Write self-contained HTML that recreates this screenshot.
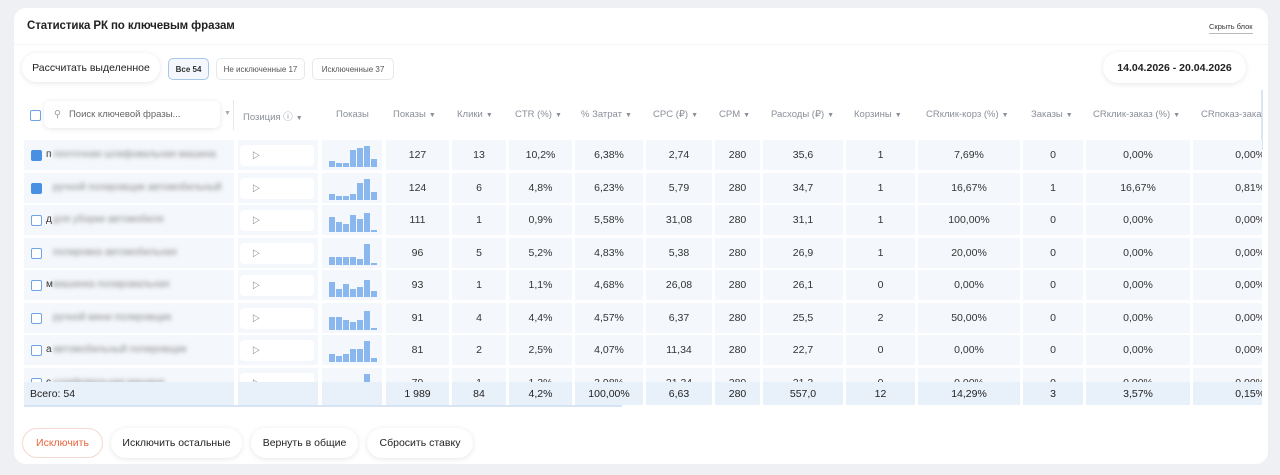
<!DOCTYPE html>
<html><head><meta charset="utf-8">
<style>
*{box-sizing:border-box;margin:0;padding:0}
body{width:1280px;height:475px;background:#eef0f3;font-family:"Liberation Sans","Noto Sans CJK SC",sans-serif;position:relative;overflow:hidden;color:#222}
.card{position:absolute;left:14px;top:8px;width:1254px;height:456px;background:#fff;border-radius:12px}
.abs{position:absolute}
.pill{position:absolute;background:#fff;border-radius:16px;box-shadow:0 1px 6px rgba(0,0,0,.1);font-size:10.5px;display:flex;align-items:center;justify-content:center;color:#222;white-space:nowrap}
.tab{position:absolute;height:22px;border:1px solid #e6e8ec;border-radius:5px;font-size:8px;color:#555;display:flex;align-items:center;justify-content:center;background:#fff;white-space:nowrap}
.hd{position:absolute;top:109px;font-size:9.5px;color:#8a8f99;white-space:nowrap}
.hd small{font-size:7px;margin-left:3px}
.cell{position:absolute;background:#f4f7fb;font-size:10.5px;color:#333;display:flex;align-items:center;justify-content:center}
.tot{position:absolute;background:#e8f0fa;font-size:10.5px;color:#222;display:flex;align-items:center;justify-content:center;height:23px;top:382px}
.cb{position:absolute;width:11px;height:11px;border:1px solid #6fa3e3;border-radius:2px;background:#fff}
.cb.on{background:#4a90e2;border-color:#4a90e2}
</style></head><body>
<div class="card"></div>
<div class="abs" style="left:27px;top:20px;font-size:11.5px;font-weight:bold;color:#222;letter-spacing:-0.1px">Статистика РК по ключевым фразам</div>
<div class="abs" style="left:1209px;top:22px;font-size:7.5px;color:#333;border-bottom:1px solid #bbb;padding-bottom:2px">Скрыть блок</div>
<div class="abs" style="left:14px;top:44px;width:1254px;height:1px;background:#f3f4f6"></div>
<div class="pill" style="left:22px;top:53px;width:138px;height:29px">Рассчитать выделенное</div>
<div class="tab" style="left:168px;top:58px;width:41px;border-color:#a9c6ea;background:#f4f8fe;color:#333;font-weight:bold">Все 54</div>
<div class="tab" style="left:216px;top:58px;width:89px">Не исключенные 17</div>
<div class="tab" style="left:312px;top:58px;width:82px">Исключенные 37</div>
<div class="pill" style="left:1103px;top:52px;width:143px;height:31px;font-weight:bold;font-size:10.5px">14.04.2026 - 20.04.2026</div>

<div class="cb" style="left:30px;top:110px"></div>
<div class="pill" style="left:44px;top:101px;width:176px;height:27px;border-radius:6px;justify-content:flex-start;padding-left:10px;font-size:9.5px;color:#666"><span style="color:#999;margin-right:8px">&#9906;</span>Поиск ключевой фразы...</div>
<div class="abs" style="left:224px;top:110px;color:#aaa;font-size:7px">&#9660;</div>
<div class="abs" style="left:233px;top:100px;width:1px;height:30px;background:#e5e7ea"></div>
<div class="abs" style="left:1261px;top:90px;width:2px;height:60px;background:#dbe6f3"></div>

<div id="tbl" class="abs" style="left:0;top:0;width:1262px;height:475px;overflow:hidden"></div>

<div class="abs" style="left:24px;top:405px;width:598px;height:2px;background:#d6e4f4"></div>

<div class="pill" style="left:22px;top:428px;width:81px;height:30px;color:#e8643c;border:1px solid #f6d8cf;box-shadow:none">Исключить</div>
<div class="pill" style="left:111px;top:428px;width:131px;height:30px">Исключить остальные</div>
<div class="pill" style="left:251px;top:428px;width:107px;height:30px">Вернуть в общие</div>
<div class="pill" style="left:367px;top:428px;width:106px;height:30px">Сбросить ставку</div>

<script>
const headers=["Позиция ⓘ","Показы","Показы","Клики","CTR (%)","% Затрат","CPC (₽)","CPM","Расходы (₽)","Корзины","CRклик-корз (%)","Заказы","CRклик-заказ (%)","CRпоказ-заказ"];
const hasCaret=[true,false,true,true,true,true,true,true,true,true,true,true,true,false];
const initials=["п","","д","","м","","а","с"];
const checked=[true,true,false,false,false,false,false,false];
const sparks=[[3,2,2,8,9,10,4],[3,2,2,3,8,10,4],[7,5,4,8,6,9,1],[4,4,4,4,3,10,1],[7,4,6,4,5,8,3],[6,6,5,4,5,9,1],[4,3,4,6,6,10,2],[4,3,4,5,6,10,2]];
const rowsData=[
["127","13","10,2%","6,38%","2,74","280","35,6","1","7,69%","0","0,00%","0,00%"],
["124","6","4,8%","6,23%","5,79","280","34,7","1","16,67%","1","16,67%","0,81%"],
["111","1","0,9%","5,58%","31,08","280","31,1","1","100,00%","0","0,00%","0,00%"],
["96","5","5,2%","4,83%","5,38","280","26,9","1","20,00%","0","0,00%","0,00%"],
["93","1","1,1%","4,68%","26,08","280","26,1","0","0,00%","0","0,00%","0,00%"],
["91","4","4,4%","4,57%","6,37","280","25,5","2","50,00%","0","0,00%","0,00%"],
["81","2","2,5%","4,07%","11,34","280","22,7","0","0,00%","0","0,00%","0,00%"],
["79","1","1,3%","3,98%","21,34","280","21,3","0","0,00%","0","0,00%","0,00%"]];
const totals=["1 989","84","4,2%","100,00%","6,63","280","557,0","12","14,29%","3","3,57%","0,15%"];
const blurTxt=["ленточная шлифовальная машина","ручной полировщик автомобильный","для уборки автомобиля","полировка автомобильная","машинка полировальная","ручной мини полировщик","автомобильный полировщик","шлифовальная машина"];
</script>
<script>
const T=document.getElementById('tbl');
const cols=[[24,210],[238,80],[322,60],[386,63],[452,54],[509,63],[575,68],[646,66],[715,45],[763,80],[846,69],[918,102],[1023,60],[1086,104],[1193,90]];
const hdX=[243,336,393,457,515,581,653,719,771,854,926,1031,1093,1201];
headers.forEach((h,i)=>{const d=document.createElement('div');d.className='hd';d.style.left=hdX[i]+'px';
d.innerHTML=h+(hasCaret[i]?'<small>&#9660;</small>':'');


T.appendChild(d);});
const ROW0=140,RH=32.5,CH=30,SMAX=10,SH=21;
rowsData.forEach((r,ri)=>{
 const top=Math.round(ROW0+ri*RH);
 for(let c=0;c<cols.length;c++){
  const d=document.createElement('div');d.className='cell';
  d.style.left=cols[c][0]+'px';d.style.width=cols[c][1]+'px';d.style.top=top+'px';d.style.height=CH+'px';
  if(c===0){
   d.style.justifyContent='flex-start';
   
   
   const cb=document.createElement('div');cb.className='cb'+(checked[ri]?' on':'');cb.style.left='7px';cb.style.top='10px';
   
   
   d.appendChild(cb);
   const s=document.createElement('span');s.style.cssText='position:absolute;left:22px;top:9px;font-size:10px;color:#333';s.textContent=initials[ri];d.appendChild(s);
   const b=document.createElement('span');b.style.cssText='position:absolute;left:29px;top:9px;font-size:10px;color:#888;filter:blur(2.2px);white-space:nowrap';b.textContent=blurTxt[ri];d.appendChild(b);
  } else if(c===1){
   
   
   const w=document.createElement('div');w.style.cssText='position:absolute;left:2px;top:5px;width:74px;height:21px;background:#fff;border-radius:4px;font-size:8px;color:#444;padding:5px 0 0 12px';w.textContent='▷';d.appendChild(w);
  } else if(c===2){
   
   
   sparks[ri].forEach((v,k)=>{const b=document.createElement('div');const h=v/SMAX*SH;
    b.style.cssText='position:absolute;background:#8ab8ee;width:5.5px;left:'+(7+k*7)+'px;top:'+(27-h)+'px;height:'+h+'px';
    
    
    d.appendChild(b);});
  } else {
   d.textContent=r[c-3];
   if(c===14){d.style.justifyContent='flex-end';d.style.paddingRight='18px';}
   
   
  }
  T.appendChild(d);
 }
});
for(let c=0;c<cols.length;c++){
 const d=document.createElement('div');d.className='tot';
 d.style.left=cols[c][0]+'px';d.style.width=cols[c][1]+'px';
 if(c===0){d.style.justifyContent='flex-start';d.style.paddingLeft='6px';d.textContent='Всего: 54';}
 else if(c>=3){d.textContent=totals[c-3];if(c===14){d.style.justifyContent='flex-end';d.style.paddingRight='18px';}}
 
 
 T.appendChild(d);
}
</script>
</body></html>
